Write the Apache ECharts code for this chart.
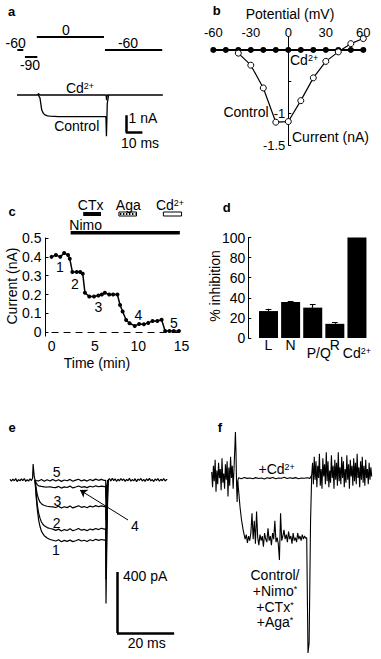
<!DOCTYPE html>
<html><head><meta charset="utf-8">
<script src="https://cdn.jsdelivr.net/npm/echarts@6/dist/echarts.min.js"></script>
<style>html,body{margin:0;padding:0;background:#fff}#c{width:381px;height:659px}</style>
</head><body><div id="c"></div>
<script>
// ---------- Panel a: voltage protocol (ms, mV) and currents (ms, nA)
const aStepStart = [0.2, 4.8, 12.0, 53.3];
const aStepEnd   = [3.8, 12.3, 52.7, 88.0];
const aStepMv    = [-60, -90, 0, -60];
const aCdTrace = [[0,0],[12.6,0],[12.9,0.08],[13.3,0.05],[13.6,0],[54.0,0],[54.3,-0.3],[54.6,0],[88.4,0]];
const aControlTrace = [[12.9,0],[13.9,-0.16],[15,-0.86],[16,-1.05],[17,-1.14],[18.5,-1.19],[20,-1.21],[25,-1.23],[30,-1.24],[40,-1.24],[50,-1.24],[53.9,-1.24],[54.2,-2.36],[54.7,-0.5],[55.5,0]];
const aScaleMs = 10, aScaleNa = 1;

// ---------- Panel b: I-V relation
const bVoltage = [-60,-50,-40,-30,-20,-10,0,10,20,30,40,50,60];
const bControl = [null,null,-0.05,-0.24,-0.6,-1.14,-1.13,-0.8,-0.44,-0.18,-0.03,0.1,0.18];
const bCd      = [0,0,0,0,0,0,0,0,0,0,0,0,0];
const bXTicks = [-60,-30,0,30,60];
const bYLabels = [-1.5,-1];

// ---------- Panel c: time course
const cTime = [0,0.5,1.0,1.45,1.9,2.1,2.4,2.9,3.3,3.6,3.85,4.35,4.9,5.4,5.8,6.15,6.65,7.1,7.6,7.9,8.2,8.6,9.0,9.6,10.1,10.65,11.15,11.65,12.2,12.7,13.1,13.6,14.1,14.7];
const cCurrent = [0.40,0.41,0.40,0.42,0.41,0.39,0.32,0.32,0.32,0.31,0.21,0.19,0.19,0.195,0.20,0.21,0.20,0.20,0.20,0.145,0.11,0.065,0.048,0.034,0.044,0.043,0.05,0.06,0.06,0.067,0.007,0.007,0.007,0.007];
const cXTicks = [0,5,10,15];
const cYTicks = [0,0.1,0.2,0.3,0.4,0.5];
const cDrugNames = ['Nimo','CTx','Aga','Cd'];
const cDrugStart = [2.2, 3.65, 7.77, 12.9];
const cDrugEnd   = [14.8, 5.7, 9.8, 15.0];
const cDrugRow   = [0, 1, 1, 1];

// ---------- Panel d: % inhibition
const dCategories = ['L','N','P/Q','R','Cd2+'];
const dValues = [26.8, 35.8, 30.2, 14.1, 100];
const dErrors = [2.2, 0.8, 3.3, 1.6, 0];
const dYTicks = [0,20,40,60,80,100];

// ---------- Panel e: traces (ms, pA)
const ePre = [[0,4],[0.5,-8],[1,6],[1.5,-5],[2,9],[2.5,-10],[3,3],[3.5,-6],[4,8],[4.5,-4],[5,10],[5.5,-9],[6,2],[6.5,-7],[7,7],[7.5,-3],[7.9,12],[8.1,105],[8.3,60],[8.5,20],[8.75,0]];
const ePost = [[34.3,0],[34.8,9],[35.3,-7],[35.8,11],[36.3,-4],[36.8,8],[37.3,-10],[37.8,5],[38.3,-6],[38.8,10],[39.3,-3],[39.8,7],[40.3,-9],[40.8,4],[41.3,-5],[41.8,12],[42.3,-8],[42.8,3],[43.3,-6],[43.8,9],[44.3,-11],[44.8,6],[45.3,-2],[45.8,10],[46.3,-7],[46.8,4],[47.3,-9],[47.8,8],[48.3,-4],[48.8,11],[49.3,-6],[49.8,3],[50.3,-10],[50.8,7],[51.3,-3],[51.8,9],[52.3,-8],[52.8,5],[53.3,-5],[53.8,10],[54.3,-7],[54.8,4],[55,0]];
const eTrace1 = [[8.75,0],[9.2,-120],[9.6,-200],[10,-260],[10.5,-305],[11,-335],[11.5,-352],[12,-365],[13,-380],[14,-390],[15,-395],[16,-400],[17,-392],[18,-405],[19,-396],[20,-402],[21,-394],[22,-404],[23,-398],[24,-390],[25,-400],[26,-395],[27,-403],[28,-392],[29,-398],[30,-388],[31,-396],[32,-390],[33,-394],[33.5,-392],[33.6,-810],[33.9,-400],[34.3,0]];
const eTrace2 = [[8.75,0],[9.2,-100],[9.6,-170],[10,-215],[10.5,-250],[11,-275],[11.5,-290],[12,-300],[13,-312],[14,-318],[15,-322],[16,-330],[17,-322],[18,-334],[19,-325],[20,-331],[21,-320],[22,-333],[23,-326],[24,-318],[25,-329],[26,-324],[27,-332],[28,-321],[29,-327],[30,-318],[31,-325],[32,-316],[33,-322],[33.5,-320],[33.6,-650],[33.9,-300],[34.3,0]];
const eTrace3 = [[8.75,0],[9.2,-60],[9.6,-100],[10,-125],[10.5,-145],[11,-155],[11.5,-162],[12,-167],[13,-172],[14,-175],[15,-176],[16,-180],[17,-172],[18,-184],[19,-175],[20,-181],[21,-170],[22,-183],[23,-176],[24,-169],[25,-179],[26,-174],[27,-182],[28,-171],[29,-177],[30,-168],[31,-175],[32,-170],[33,-174],[33.5,-172],[33.6,-450],[33.9,-200],[34.3,0]];
const eTrace4 = [[8.75,0],[9.2,-20],[9.6,-32],[10,-38],[11,-42],[12,-45],[13,-46],[14,-44],[15,-48],[16,-50],[17,-42],[18,-53],[19,-45],[20,-49],[21,-40],[22,-52],[23,-46],[24,-39],[25,-48],[26,-43],[27,-50],[28,-41],[29,-46],[30,-38],[31,-44],[32,-40],[33,-43],[33.5,-42],[33.6,-260],[33.9,-100],[34.3,0]];
const eTrace5 = [[8.75,0],[9.2,-4],[10,-6],[11,3],[12,-8],[13,2],[14,-6],[15,4],[16,-7],[17,2],[18,-9],[19,0],[20,-5],[21,4],[22,-8],[23,-1],[24,5],[25,-6],[26,1],[27,-7],[28,3],[29,-4],[30,6],[31,-2],[32,4],[33,-3],[33.5,-2],[33.6,-120],[33.9,-40],[34.3,0]];
const eScaleMs = 20, eScalePa = 400;

// ---------- Panel f: traces (ms, pA)
const fPre = [[0.6,20],[0.9,-80],[1.2,60],[1.5,-40],[1.8,100],[2.1,-110],[2.4,30],[2.7,-60],[3.0,80],[3.3,-20],[3.6,40],[3.9,-100],[4.2,110],[4.5,-50],[4.8,10],[5.1,-90],[5.4,70],[5.7,-30],[6.0,90],[6.3,-140],[6.6,50],[6.9,-70],[7.2,120],[7.5,-20],[7.8,60],[8.1,-90],[8.4,40],[8.7,180],[8.9,282],[9.1,150],[9.3,-60],[9.5,-177],[9.7,-40]];
const fCd = [[9.7,-40],[10,-18],[11,-24],[12,-16],[13,-22],[14,-19],[15,-25],[16,-17],[17,-23],[18,-20],[19,-26],[20,-18],[21,-22],[22,-16],[23,-24],[24,-19],[25,-21],[26,-15],[27,-23],[28,-18],[29,-22],[30,-17],[31,-24],[32,-19],[33,-21],[34,-18],[35,-22],[35.6,0]];
const fControl = [[9.7,-40],[10.1,-120],[10.5,-208],[11.0,-290],[11.6,-360],[12.0,-395],[12.3,-420],[12.7,-390],[13.1,-445],[13.5,-400],[13.9,-430],[14.3,-380],[14.7,-250],[15.1,-420],[15.5,-300],[15.9,-450],[16.3,-240],[16.7,-410],[17.1,-460],[17.5,-390],[17.9,-430],[18.3,-400],[18.7,-470],[19.1,-380],[19.5,-420],[19.9,-440],[20.3,-350],[20.7,-430],[21.1,-400],[21.5,-460],[21.9,-380],[22.3,-420],[22.7,-300],[23.1,-440],[23.5,-410],[23.9,-450],[24.3,-557],[24.7,-250],[25.1,-430],[25.5,-400],[25.9,-360],[26.3,-420],[26.7,-390],[27.1,-440],[27.5,-370],[27.9,-420],[28.3,-400],[28.7,-450],[29.1,-380],[29.5,-430],[29.9,-410],[30.3,-440],[30.7,-380],[31.1,-420],[31.5,-400],[31.9,-430],[32.3,-390],[32.7,-420],[33.1,-400],[33.5,-415],[33.85,-410],[34.3,-1167],[34.7,-1100],[35.2,-300],[35.6,0]];
const fPost = [[35.6,0],[35.9,80],[36.2,-60],[36.5,120],[36.8,-30],[37.1,90],[37.4,-80],[37.7,60],[38.0,-20],[38.3,140],[38.6,-70],[38.9,40],[39.2,-90],[39.5,110],[39.8,-10],[40.1,70],[40.4,-60],[40.7,150],[41.0,-40],[41.3,90],[41.6,-80],[41.9,30],[42.2,-50],[42.5,130],[42.8,-20],[43.1,60],[43.4,-90],[43.7,100],[44.0,-30],[44.3,80],[44.6,-70],[44.9,150],[45.2,-40],[45.5,50],[45.8,-60],[46.1,120],[46.4,-20],[46.7,90],[47.0,-80],[47.3,40],[47.6,-50],[47.9,130],[48.2,-30],[48.5,70],[48.8,-90],[49.1,100],[49.4,-10],[49.7,60],[50.0,-70],[50.3,110],[50.6,-40],[50.9,80],[51.2,-60],[51.5,140],[51.8,-20],[52.1,50],[52.4,-80],[52.7,90],[53.0,-30],[53.3,120],[53.6,-50],[53.9,60],[54.2,-70],[54.5,100],[54.8,-20],[55.1,40],[55.4,-60],[55.7,80],[56.0,-30],[56.3,50],[56.6,-10]];

// ================= chart construction =================
const FONT = '"Liberation Sans", Arial, Helvetica, sans-serif';
const SUP = {sup:{fontSize:9, fontFamily:FONT, verticalAlign:'top', lineHeight:9, fill:'#000', color:'#000'}};

function T(text, x, y, o) {
  o = o || {};
  const font = (o.bold ? 'bold ' : '') + (o.size || 14) + 'px ' + FONT;
  return {type:'text', x:x, y:y, rotation:o.rot || 0, silent:true, z:100,
    style:{text:text, font:font, fill:'#000', align:o.align||'center', verticalAlign:'middle',
      textAlign:o.align||'center', textVerticalAlign:'middle', rich:SUP}};
}
function hx(g, min, max){ return {type:'value', gridIndex:g, min:min, max:max, show:false}; }
function hy(g, min, max){ return {type:'value', gridIndex:g, min:min, max:max, show:false}; }
function seg(coords){ return {coords:coords}; }
function trace(xi, data, w){ return {type:'line', xAxisIndex:xi, yAxisIndex:xi, data:data, showSymbol:false, symbol:'none',
  lineStyle:{color:'#000', width:w||1.2}, silent:true, animation:false}; }
function linesS(xi, data, w, extra){ return Object.assign({type:'lines', coordinateSystem:'cartesian2d', xAxisIndex:xi, yAxisIndex:xi,
  data:data, polyline:false, lineStyle:{color:'#000', width:w, opacity:1, curveness:0}, silent:true, animation:false}, extra||{}); }

const grids = [
  {left:17, top:30, width:146, height:30},          // 0 a protocol
  {left:17, top:85, width:146, height:55},          // 1 a traces
  {left:213.3, top:37.3, width:150, height:107.7},  // 2 b
  {left:45.5, top:195.3, width:136.5, height:37.4}, // 3 c drugs
  {left:45.5, top:238, width:136.5, height:98.1},   // 4 c main
  {left:248.3, top:237.5, width:119.7, height:100.5}, // 5 d
  {left:10, top:455, width:165, height:185},        // 6 e
  {left:210, top:425, width:162.9, height:232}      // 7 f
].map(g => Object.assign({outerBoundsMode:'none', containLabel:false}, g));

const lab = (s) => ({color:'#000', fontFamily:FONT, fontSize:s});
// pixel distance from grid edge to the zero lines of panel b
const bZeroRowOffset = -(0.2 / 1.7) * 107.7;
const bZeroColOffset = -(60 / 120) * 150;

const xAxes = [
  hx(0, 0, 88.48), hx(1, 0, 88.48),
  {type:'value', gridIndex:2, min:-60, max:60, position:'top', offset:bZeroRowOffset,
    axisLine:{show:true, onZero:false, lineStyle:{color:'#000', width:1.5}}, axisTick:{show:false}, splitLine:{show:false},
    axisLabel:Object.assign(lab(13), {margin:11, customValues:bXTicks})},
  hx(3, -0.7, 15.05),
  {type:'value', gridIndex:4, min:-0.7, max:15.05, axisLine:{show:false}, splitLine:{show:false},
    axisTick:{show:false}, axisLabel:Object.assign(lab(14), {margin:3, customValues:cXTicks})},
  {type:'value', gridIndex:5, min:0.086, max:5.5, position:'bottom', axisLine:{show:false}, axisTick:{show:false}, splitLine:{show:false},
    axisLabel:Object.assign(lab(14), {margin:0, customValues:[1,2,4],
      formatter:(v)=> dCategories[Math.round(v)-1]})},
  hx(6, 0, 57.75), hx(7, 0, 57.02),
  {type:'value', gridIndex:5, min:0.086, max:5.5, position:'bottom', offset:0, axisLine:{show:false}, axisTick:{show:false}, splitLine:{show:false},
    axisLabel:Object.assign(lab(14), {margin:8, customValues:[3,5],
      rich:{pq:{fontSize:14, fontFamily:FONT, color:'#000', padding:[0,0,0,12]}, sup:{fontSize:9, fontFamily:FONT, color:'#000', verticalAlign:'top', lineHeight:9}},
      formatter:(v)=> { const c = dCategories[Math.round(v)-1]; return c === 'P/Q' ? '{pq|P/Q}' : 'Cd{sup|2+}'; }})}
];
const yAxes = [
  hy(0, -105, 30), hy(1, -2.5714, 0.5714),
  {type:'value', gridIndex:2, min:-1.5, max:0.2, position:'left', offset:bZeroColOffset,
    axisLine:{show:true, onZero:false, lineStyle:{color:'#000', width:1}},
    splitLine:{show:false}, axisTick:{inside:true, length:3, lineStyle:{color:'#000'}, customValues:[-1.5,-1,-0.5]},
    axisLabel:Object.assign(lab(13), {margin:3, customValues:bYLabels, formatter:(v)=>String(v)})},
  hy(3, 0, 2),
  {type:'value', gridIndex:4, min:-0.02, max:0.5, axisLine:{show:true, onZero:false, lineStyle:{color:'#000', width:1}},
    splitLine:{show:false}, axisTick:{inside:true, length:3, lineStyle:{color:'#000'}, customValues:cYTicks},
    axisLabel:Object.assign(lab(14), {margin:4, customValues:cYTicks, formatter:(v)=> v===0?'0':v.toFixed(1)})},
  {type:'value', gridIndex:5, min:0, max:100, axisLine:{show:true, onZero:false, lineStyle:{color:'#000', width:1}},
    splitLine:{show:false}, axisTick:{inside:true, length:3, lineStyle:{color:'#000'}, customValues:dYTicks},
    axisLabel:Object.assign(lab(14), {margin:3, customValues:dYTicks})},
  hy(6, -1049, 164), hy(7, -1193, 328)
];

const series = [];
// panel a
series.push(linesS(0, aStepMv.map((mv,i)=>seg([[aStepStart[i],mv],[aStepEnd[i],mv]])), 2));
series.push(trace(1, aCdTrace, 1.3));
series.push(trace(1, aControlTrace, 1.3));
const aBarT = 66, aBarV = -2.15;
series.push(linesS(1, [seg([[aBarT, aBarV+aScaleNa],[aBarT, aBarV]]), seg([[aBarT, aBarV],[aBarT+aScaleMs, aBarV]])], 2.5));
// panel b
series.push({type:'line', xAxisIndex:2, yAxisIndex:2, data:bVoltage.map((v,i)=>[v,bCd[i]]), symbol:'circle', symbolSize:6,
  showAllSymbol:true, itemStyle:{color:'#000'}, lineStyle:{color:'#000', width:2}, z:3, silent:true, animation:false});
series.push({type:'line', xAxisIndex:2, yAxisIndex:2, data:bVoltage.map((v,i)=>[v,bControl[i]]).filter(p=>p[1]!==null),
  symbol:'circle', symbolSize:6, showAllSymbol:true, itemStyle:{color:'#fff', borderColor:'#000', borderWidth:1},
  lineStyle:{color:'#000', width:1.2}, z:4, silent:true, animation:false});
// panel c drugs
series.push({type:'custom', xAxisIndex:3, yAxisIndex:3, silent:true, animation:false,
  data:cDrugNames.map((n,i)=>[cDrugStart[i], cDrugEnd[i], cDrugRow[i], i]),
  encode:{x:[0,1], y:2},
  renderItem:function(params, api){
    const s = api.coord([api.value(0), api.value(2)]);
    const e = api.coord([api.value(1), api.value(2)]);
    const k = api.value(3);
    const h = k === 0 ? 3.5 : 4;
    const x = s[0], y = s[1]-h/2, w = e[0]-s[0];
    if (k === 0 || k === 1) return {type:'rect', shape:{x:x,y:y,width:w,height:h}, style:{fill:'#000'}};
    if (k === 2) return {type:'group', children:[
      {type:'rect', shape:{x:x,y:y,width:w,height:h}, style:{fill:'#fff', stroke:'#000', lineWidth:1}},
      {type:'line', shape:{x1:x+1,y1:y+h/2,x2:x+w-1,y2:y+h/2}, style:{stroke:'#000', lineWidth:2, lineDash:[1.5,1.5]}}]};
    return {type:'rect', shape:{x:x,y:y,width:w,height:h}, style:{fill:'#fff', stroke:'#000', lineWidth:1}};
  }});
// panel c main
series.push({type:'line', xAxisIndex:4, yAxisIndex:4, data:cTime.map((t,i)=>[t,cCurrent[i]]), symbol:'circle', symbolSize:4,
  showAllSymbol:true, itemStyle:{color:'#000'}, lineStyle:{color:'#000', width:1.5}, silent:true, animation:false,
  markLine:{silent:true, symbol:['none','none'], label:{show:false}, animation:false,
    lineStyle:{type:[7,5], color:'#000', width:1}, data:[[{coord:[0,0]},{coord:[15,0]}]]}});
// panel d
series.push({type:'bar', xAxisIndex:5, yAxisIndex:5, data:dValues.map((v,i)=>[i+1,v]), barWidth:19,
  itemStyle:{color:'#000'}, silent:true, animation:false});
const errSegs = [];
dValues.forEach((v,i)=>{ if (dErrors[i] > 0) {
  errSegs.push(seg([[i+1, v],[i+1, v+dErrors[i]]]));
  errSegs.push(seg([[i+1-0.13, v+dErrors[i]],[i+1+0.13, v+dErrors[i]]]));
}});
series.push(linesS(5, errSegs, 1.2));
// panel e
[ePre, ePost, eTrace1, eTrace2, eTrace3, eTrace4, eTrace5].forEach(d => series.push(trace(6, d, 1.2)));
const eBarT = 37.45, eBarV = -1003;
series.push(linesS(6, [seg([[eBarT, eBarV+eScalePa],[eBarT, eBarV]]), seg([[eBarT, eBarV],[eBarT+eScaleMs, eBarV]])], 2.5));
series.push(linesS(6, [seg([[41.3,-262],[24.5,-66]])], 1, {symbol:['none','arrow'], symbolSize:7}));
// panel f
[fPre, fCd, fControl, fPost].forEach(d => series.push(trace(7, d, 1.1)));

const graphic = [
  T('a', 11.7, 11.7, {bold:true, size:13}),
  T('-60', 15.7, 43.3), T('-90', 30, 65), T('0', 66, 30), T('-60', 128, 43.3),
  T('Cd{sup|2+}', 80, 88), T('Control', 76.7, 126),
  T('1 nA', 128.5, 118.3, {align:'left'}), T('10 ms', 140, 142.7),
  T('b', 216.7, 10, {bold:true, size:13}),
  T('Potential (mV)', 290, 14),
  T('Cd{sup|2+}', 290, 60, {align:'left'}), T('Control', 246, 112),
  T('Current (nA)', 292, 137, {align:'left'}),
  T('c', 12, 211.7, {bold:true, size:13}),
  T('CTx', 90.7, 205), T('Aga', 128.3, 205), T('Cd{sup|2+}', 170, 205), T('Nimo', 69.3, 225, {align:'left'}),
  T('1', 60, 266.7), T('2', 75, 284.3), T('3', 98.3, 306.7), T('4', 138.3, 315), T('5', 174, 323.3),
  T('Time (min)', 97, 363), T('Current (nA)', 11.7, 286, {rot:Math.PI/2}),
  T('d', 226.7, 207.3, {bold:true, size:13}),
  T('% inhibition', 215, 286, {rot:Math.PI/2}),
  T('e', 12, 427, {bold:true, size:13}),
  T('5', 56.7, 471.7), T('3', 57.3, 500.7), T('2', 56.7, 522.7), T('1', 56, 550), T('4', 135, 526),
  T('400 pA', 123, 576, {align:'left'}), T('20 ms', 146.7, 643),
  T('f', 220, 427, {bold:true, size:13}),
  T('+Cd{sup|2+}', 276.7, 469.3),
  T('Control/', 275, 575), T('+Nimo{sup|*}', 275, 591), T('+CTx{sup|*}', 275, 607), T('+Aga{sup|*}', 275, 622)
];

const chart = echarts.init(document.getElementById('c'), null, {renderer:'svg', width:381, height:659});
chart.setOption({animation:false, backgroundColor:'#fff', textStyle:{fontFamily:FONT},
  grid:grids, xAxis:xAxes, yAxis:yAxes, series:series, graphic:graphic});
</script></body></html>
